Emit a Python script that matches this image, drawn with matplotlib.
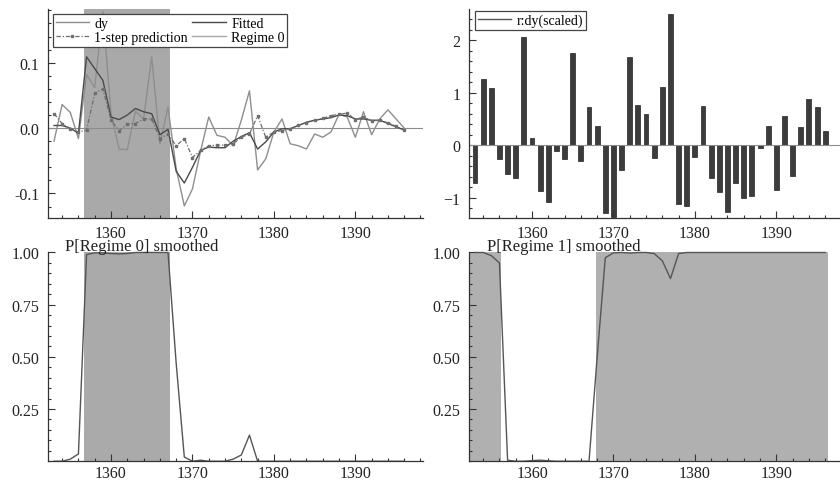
import numpy as np
import matplotlib.pyplot as plt
from matplotlib.lines import Line2D
from matplotlib.ticker import MultipleLocator

plt.rcParams['font.family'] = ['Liberation Serif', 'DejaVu Serif']

# =========================
# DATA
# =========================
years = np.arange(1353, 1397)

dy = [-0.020, 0.036, 0.024, -0.016, 0.082, 0.062, 0.178, 0.022, -0.032, -0.033,
      0.026, 0.014, 0.109, -0.024, 0.032, -0.062, -0.119, -0.093, -0.035, 0.017,
      -0.011, -0.014, -0.027, 0.012, 0.057, -0.064, -0.047, -0.006, 0.014, -0.024,
      -0.027, -0.032, -0.009, -0.014, -0.006, 0.021, 0.017, -0.014, 0.025, -0.010,
      0.014, 0.028, 0.014, 0.000]

fitted = [0.004, 0.004, 0.000, -0.008, 0.109, 0.091, 0.073, 0.017, 0.013, 0.020,
          0.030, 0.025, 0.022, -0.010, -0.002, -0.066, -0.084, -0.060, -0.034, -0.029,
          -0.030, -0.030, -0.020, -0.013, -0.007, -0.032, -0.021, -0.006, -0.001, -0.001,
          0.004, 0.009, 0.012, 0.014, 0.016, 0.020, 0.019, 0.014, 0.014, 0.012,
          0.012, 0.007, 0.002, -0.003]

one_step = [0.022, 0.007, -0.001, -0.006, -0.003, 0.053, 0.060, 0.012, -0.004, 0.006,
            0.007, 0.014, 0.014, -0.016, -0.009, -0.027, -0.016, -0.045, -0.034, -0.027,
            -0.026, -0.026, -0.024, -0.014, -0.009, 0.019, -0.014, -0.006, -0.004, -0.001,
            0.004, 0.008, 0.012, 0.015, 0.019, 0.021, 0.023, 0.013, 0.017, 0.011,
            0.012, 0.008, 0.003, -0.003]

resid_scaled = [-0.73, 1.26, 1.08, -0.27, -0.55, -0.62, 2.06, 0.14, -0.87, -1.08,
                -0.12, -0.27, 1.75, -0.31, 0.72, 0.37, -1.29, -1.36, -0.47, 1.68,
                0.76, 0.59, -0.24, 1.11, 2.49, -1.13, -1.16, -0.22, 0.75, -0.63,
                -0.90, -1.27, -0.73, -1.01, -0.97, -0.06, 0.37, -0.85, 0.55, -0.59,
                0.34, 0.87, 0.72, 0.27]

p_regime0 = [0.0, 0.0, 0.01, 0.035, 0.99, 0.998, 0.998, 0.995, 0.993, 0.995,
             1.0, 1.0, 1.0, 1.0, 1.0, 0.47, 0.02, 0.0, 0.005, 0.0,
             0.0, 0.0, 0.01, 0.03, 0.125, 0.0, 0.0, 0.0, 0.0, 0.0,
             0.0, 0.0, 0.0, 0.0, 0.0, 0.0, 0.0, 0.0, 0.0, 0.0,
             0.0, 0.0, 0.0, 0.0]

p_regime1 = [1.0, 1.0, 0.985, 0.95, 0.005, 0.0, 0.0, 0.003, 0.005, 0.002,
             0.0, 0.0, 0.0, 0.0, 0.0, 0.5, 0.975, 0.998, 1.0, 0.997,
             1.0, 1.0, 0.995, 0.96, 0.875, 0.995, 1.0, 1.0, 1.0, 1.0,
             1.0, 1.0, 1.0, 1.0, 1.0, 1.0, 1.0, 1.0, 1.0, 1.0,
             1.0, 1.0, 1.0, 1.0]

regime0_spans = [(1356.7, 1367.2)]
regime1_spans = [(1352.3, 1356.2), (1367.8, 1396.3)]

XLIM = (1352.3, 1398.3)
STEP_LS = (0, (3.5, 1.5, 1, 1.5))


def style_axis(ax, ymajor, yminor, xpad):
    ax.spines['top'].set_visible(False)
    ax.spines['right'].set_visible(False)
    for s in ('left', 'bottom'):
        ax.spines[s].set_color('#333333')
        ax.spines[s].set_linewidth(0.9)
    ax.set_xlim(*XLIM)
    ax.xaxis.set_major_locator(MultipleLocator(10))
    ax.xaxis.set_minor_locator(MultipleLocator(2))
    ax.yaxis.set_major_locator(MultipleLocator(ymajor))
    ax.yaxis.set_minor_locator(MultipleLocator(yminor))
    ax.tick_params(which='both', direction='in', colors='#333333', labelsize=11.5,
                   labelcolor='#222222', width=0.8)
    ax.tick_params(axis='y', which='both', pad=6.5)
    ax.tick_params(axis='x', which='both', pad=xpad)
    ax.tick_params(which='major', length=5)
    ax.tick_params(which='minor', length=2.5)


fig = plt.figure(figsize=(8.4, 4.81), dpi=100)

# ---- top left: dy, fitted, 1-step prediction ----
ax1 = fig.add_axes([0.0575, 0.544, 0.446, 0.435])
for a, b in regime0_spans:
    ax1.axvspan(a, b, color='#a9a9a9', lw=0)
ax1.axhline(0, color='#8c8c8c', lw=0.8)
ax1.plot(years, dy, color='#8e8e8e', lw=1.0)
ax1.plot(years, fitted, color='#4a4a4a', lw=1.0)
ax1.plot(years, one_step, color='#6e6e6e', lw=0.9, ls=STEP_LS,
         marker='s', markersize=1.6)
ax1.set_ylim(-0.138, 0.182)
style_axis(ax1, 0.1, 0.02, 5)
ax1.yaxis.set_major_formatter(plt.FuncFormatter(lambda v, p: f'{v:.1f}'))
handles = [Line2D([], [], color='#8e8e8e', lw=1.0),
           Line2D([], [], color='#6e6e6e', lw=0.9, ls=STEP_LS,
                  marker='s', markersize=1.6),
           Line2D([], [], color='#4a4a4a', lw=1.0),
           Line2D([], [], color='#a9a9a9', lw=1.0)]
labels = ['dy', '1-step prediction', 'Fitted', 'Regime 0']
leg = ax1.legend(handles, labels, ncol=2, loc='upper left', fontsize=10,
                 bbox_to_anchor=(0.012, 0.975), frameon=True, fancybox=False,
                 handlelength=2.4, handletextpad=0.4, columnspacing=0.3,
                 labelspacing=0.05, borderpad=0.2, borderaxespad=0.0,
                 framealpha=1)
leg.get_frame().set_edgecolor('#444444')
leg.get_frame().set_linewidth(0.9)

# ---- top right: scaled residuals ----
ax2 = fig.add_axes([0.5587, 0.545, 0.446, 0.434])
ax2.axhline(0, color='#8c8c8c', lw=0.8)
ax2.bar(years, resid_scaled, width=0.6, color='#3c3c3c', edgecolor='#222222',
        linewidth=0.5)
ax2.set_ylim(-1.385, 2.59)
style_axis(ax2, 1, 0.2, 5)
leg2 = ax2.legend([Line2D([], [], color='#555555', lw=1.0)], ['r:dy(scaled)'],
                  loc='upper left', fontsize=10, bbox_to_anchor=(0.015, 0.99),
                  frameon=True, fancybox=False, handlelength=2.4,
                  handletextpad=0.4, borderpad=0.2, borderaxespad=0.0,
                  framealpha=1)
leg2.get_frame().set_edgecolor('#444444')
leg2.get_frame().set_linewidth(0.9)

# ---- bottom left: P[Regime 0] smoothed ----
ax3 = fig.add_axes([0.0575, 0.039, 0.446, 0.434])
for a, b in regime0_spans:
    ax3.axvspan(a, b, color='#aaaaaa', lw=0)
ax3.plot(years, p_regime0, color='#555555', lw=1.0, clip_on=False)
ax3.set_ylim(0, 1.0)
style_axis(ax3, 0.25, 0.05, 2.5)
ax3.set_yticks([0.25, 0.5, 0.75, 1.0])
ax3.yaxis.set_major_formatter(plt.FuncFormatter(lambda v, p: f'{v:.2f}'))
ax3.text(0.045, 1.014, 'P[Regime 0] smoothed', transform=ax3.transAxes,
         fontsize=12, va='baseline', color='#222222')

# ---- bottom right: P[Regime 1] smoothed ----
ax4 = fig.add_axes([0.5587, 0.039, 0.446, 0.434])
for a, b in regime1_spans:
    ax4.axvspan(a, b, color='#b0b0b0', lw=0)
ax4.plot(years, p_regime1, color='#555555', lw=1.0, clip_on=False)
ax4.set_ylim(0, 1.0)
style_axis(ax4, 0.25, 0.05, 2.5)
ax4.set_yticks([0.25, 0.5, 0.75, 1.0])
ax4.yaxis.set_major_formatter(plt.FuncFormatter(lambda v, p: f'{v:.2f}'))
ax4.text(0.046, 1.014, 'P[Regime 1] smoothed', transform=ax4.transAxes,
         fontsize=12, va='baseline', color='#222222')

fig.savefig('out.png', dpi=100)
